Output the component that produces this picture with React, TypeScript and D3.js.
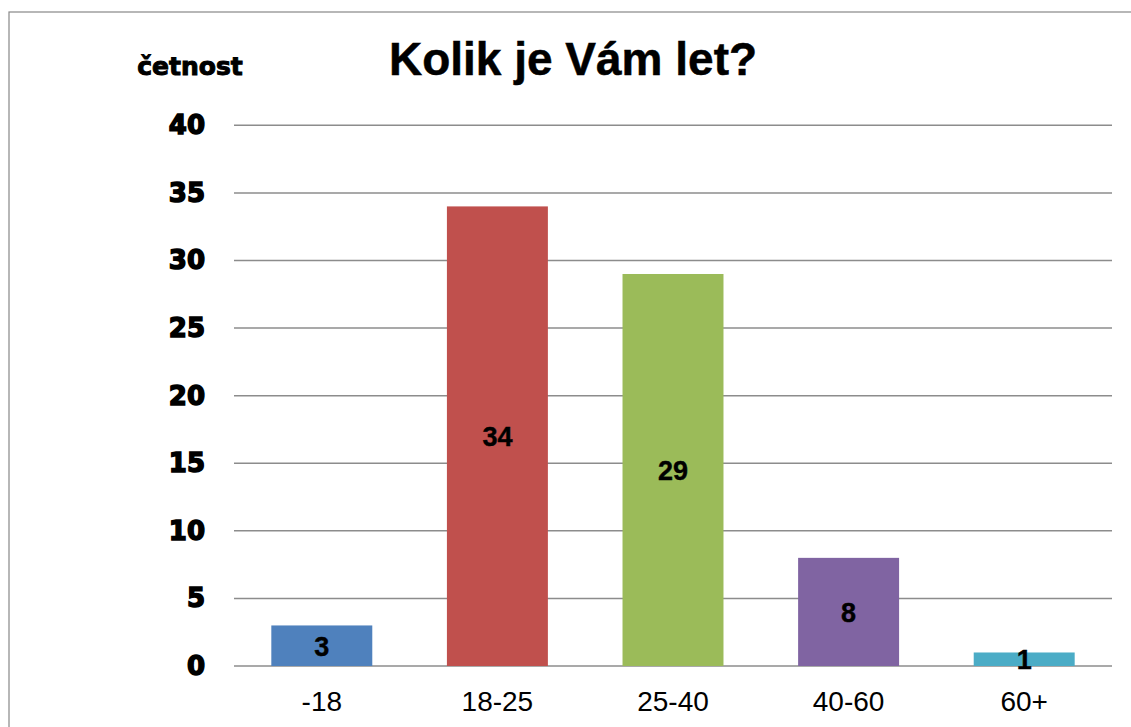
import React from "react";
import * as d3 from "d3";

const categories = ["-18", "18-25", "25-40", "40-60", "60+"];
const values = [3, 34, 29, 8, 1];
const colors = ["#4F81BD", "#C0504D", "#9BBB59", "#8064A2", "#4BACC6"];
const yTicks = [0, 5, 10, 15, 20, 25, 30, 35, 40];
const title = "Kolik je Vám let?";
const yTitle = "četnost";

export default function App() {
  const W = 1131, H = 727;
  const left = 234, right = 1112, top = 125.3, bottom = 666;
  const x = d3.scaleBand().domain(categories).range([left, right]).paddingInner(0.425).paddingOuter(0.2125);
  const y = d3.scaleLinear().domain([0, 40]).range([bottom, top]);
  const bold = "'Liberation Sans', Arial, sans-serif";
  const heavy = "'DejaVu Sans', sans-serif";
  return (
    <svg width={W} height={H} style={{ position: "absolute", left: 0, top: 0, background: "#fff" }}>
      <rect x={9} y={12} width={1200} height={800} fill="#fff" stroke="#888" strokeWidth={1.2} />
      <text x={573} y={75} textAnchor="middle" fontFamily={bold} fontWeight="bold" fontSize={46} stroke="#000" strokeWidth={0.5}>{title}</text>
      <text x={190} y={75} textAnchor="middle" fontFamily={heavy} fontWeight="bold" fontSize={25} stroke="#000" strokeWidth={1}>{yTitle}</text>
      {yTicks.map((t) => (
        <g key={t}>
          <line x1={left} x2={right} y1={y(t)} y2={y(t)} stroke="#8c8c8c" strokeWidth={1.5} />
          <text x={205} y={y(t) + 9} textAnchor="end" fontFamily={heavy} fontWeight="bold" fontSize={26} stroke="#000" strokeWidth={1.5}>{t}</text>
        </g>
      ))}
      {categories.map((c, i) => (
        <g key={c}>
          <rect x={x(c)} y={y(values[i])} width={x.bandwidth()} height={bottom - y(values[i])} fill={colors[i]} />
          <text x={(x(c) as number) + x.bandwidth() / 2} y={(y(values[i]) + bottom) / 2 + 10} textAnchor="middle" fontFamily={bold} fontWeight="bold" fontSize={27} stroke="#000" strokeWidth={0.4}>{values[i]}</text>
          <text x={(x(c) as number) + x.bandwidth() / 2} y={711} textAnchor="middle" fontFamily={bold} fontSize={28}>{c}</text>
        </g>
      ))}
    </svg>
  );
}
